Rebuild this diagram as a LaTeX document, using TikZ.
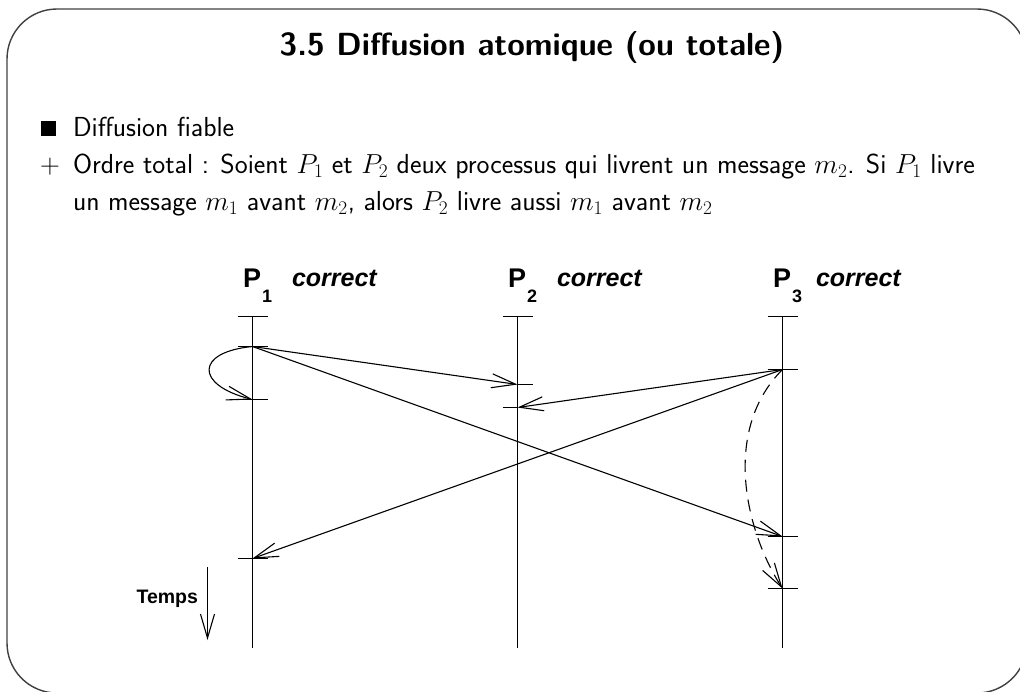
\RequirePackage{fix-cm}
\documentclass[tikz,border=0pt]{standalone}
\usepackage{fontspec}
\newfontfamily\helv{Liberation Sans}
\usetikzlibrary{arrows.meta}
\begin{document}
\begin{tikzpicture}[x=1pt,y=-1pt,
  every node/.style={inner sep=0pt, outer sep=0pt},
  frame/.style={draw=black!75, line width=1.4pt, rounded corners=50pt},
  life/.style={line width=1.1pt},
  tick/.style={line width=1.1pt},
  msg/.style={line width=1.1pt, -{Straight Barb[length=24pt,width=14pt,line width=1.1pt]}},
  bodytext/.style={font=\sffamily\fontsize{27.5}{37}\selectfont, anchor=base west},
  plab/.style={font=\helv\bfseries\fontsize{27}{30}\selectfont, anchor=base west},
  psub/.style={font=\helv\bfseries\fontsize{18}{20}\selectfont, anchor=base west},
  corr/.style={font=\helv\bfseries\itshape\fontsize{25}{28}\selectfont, anchor=base west}]
\useasboundingbox (0,0) rectangle (1020,691);
\clip (0,0) rectangle (1020,691);
\draw[frame] (7,9) rectangle (1027,693);

% title and text
\node[font=\sffamily\bfseries\fontsize{32}{38}\selectfont, anchor=base] (title) at (532,55) {3.5 Diffusion atomique (ou totale)};
\node[fill=black, minimum size=15pt, anchor=south west] (sq) at (41,136) {};
\node[bodytext] (l0) at (73,136) {Diffusion fiable};
\node[font=\sffamily\fontsize{27.5}{37}\selectfont, anchor=base] (plus) at (50,173) {$+$};
\node[bodytext] (l1) at (73,173) {Ordre total : Soient $P_1$ et $P_2$ deux processus qui livrent un message $m_2$. Si $P_1$ livre};
\node[bodytext] (l2) at (73,210) {un message $m_1$ avant $m_2$, alors $P_2$ livre aussi $m_1$ avant $m_2$};

% process labels
\node[plab] (P1) at (243,287) {P};
\node[psub] (P1s) at (262,302) {1};
\node[corr] (P1c) at (292,286) {correct};
\node[plab] (P2) at (508,287) {P};
\node[psub] (P2s) at (527,302) {2};
\node[corr] (P2c) at (557,286) {correct};
\node[plab] (P3) at (773,287) {P};
\node[psub] (P3s) at (792,302) {3};
\node[corr] (P3c) at (816,286) {correct};

% lifelines
\coordinate (t1) at (252.5,316.5); \coordinate (b1) at (252.5,648);
\coordinate (t2) at (517.5,316.5); \coordinate (b2) at (517.5,648);
\coordinate (t3) at (782.5,316.5); \coordinate (b3) at (782.5,648);
\draw[life] (t1) -- (b1);
\draw[life] (t2) -- (b2);
\draw[life] (t3) -- (b3);
\draw[tick] ([xshift=-15pt]t1) -- ([xshift=15pt]t1);
\draw[tick] ([xshift=-15pt]t2) -- ([xshift=15pt]t2);
\draw[tick] ([xshift=-15pt]t3) -- ([xshift=15pt]t3);

% events
\coordinate (a) at (252.5,346.5);
\coordinate (b) at (252.5,399.5);
\coordinate (h) at (252.5,558.5);
\coordinate (c) at (517.5,384.5);
\coordinate (d) at (517.5,407.5);
\coordinate (e) at (782.5,369.5);
\coordinate (f) at (782.5,536.5);
\coordinate (g) at (782.5,588.5);
\draw[tick] ([xshift=-15pt]a) -- ([xshift=15pt]a);
\draw[tick] ([xshift=-15pt]b) -- ([xshift=15pt]b);
\draw[tick] ([xshift=-15pt]h) -- ([xshift=15pt]h);
\draw[tick] (c) -- ([xshift=15pt]c);
\draw[tick] ([xshift=-15pt]d) -- (d);
\draw[tick] ([xshift=-15pt]e) -- ([xshift=15pt]e);
\draw[tick] ([xshift=-15pt]f) -- ([xshift=15pt]f);
\draw[tick] ([xshift=-15pt]g) -- ([xshift=15pt]g);

% messages
\draw[msg] (a) .. controls (195,352) and (195,385) .. (b);
\draw[msg] (a) -- (c);
\draw[msg] (a) -- (f);
\draw[msg] (e) -- (d);
\draw[msg] (e) -- (h);
\draw[msg, dash pattern=on 12pt off 8pt] (e) .. controls (722,430) and (745,530) .. (g);

% time arrow
\node[font=\helv\bfseries\fontsize{19.5}{22}\selectfont, anchor=base east] (temps) at (198,603) {Temps};
\coordinate (ts) at (207.5,567);
\coordinate (te) at (207.5,640);
\draw[msg] (ts) -- (te);
\end{tikzpicture}
\end{document}
